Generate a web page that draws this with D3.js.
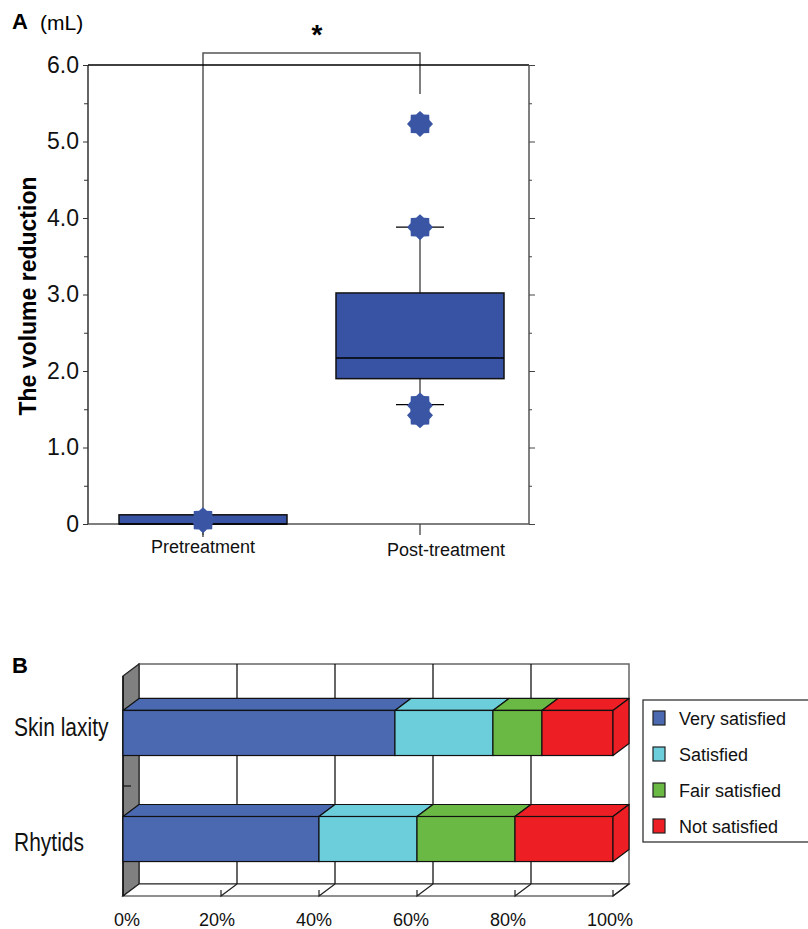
<!DOCTYPE html>
<html><head><meta charset="utf-8">
<script src="https://cdn.jsdelivr.net/npm/d3@7"></script>
<style>body{margin:0;background:#fff} svg{display:block;font-family:'Liberation Sans',Arial,Helvetica,sans-serif}</style>
</head><body><svg id="c" width="808" height="929"></svg>
<script>
// ---------- Panel A data ----------
const groups = ["Pretreatment", "Post-treatment"];
const q1 = [0, 1.90];
const medians = [0, 2.17];
const q3 = [0.12, 3.02];
const whiskerLow = [null, 1.56];
const whiskerHigh = [null, 3.88];
const outliersPre = [0.05];
const outliersPost = [5.23, 3.88, 1.55, 1.42];
const yTickValues = [0, 1, 2, 3, 4, 5, 6];
const yTickLabels = ["0", "1.0", "2.0", "3.0", "4.0", "5.0", "6.0"];
const yMinorTicks = [0.5, 1.5, 2.5, 3.5, 4.5, 5.5];

// ---------- Panel B data ----------
const items = ["Skin laxity", "Rhytids"];
const levels = ["Very satisfied", "Satisfied", "Fair satisfied", "Not satisfied"];
const verySatisfied = [55.5, 40];
const satisfied = [20, 20];
const fairSatisfied = [10, 20];
const notSatisfied = [14.5, 20];
const levelColors = ["#4a69b0", "#6ccddb", "#6ab945", "#ed1f24"];
const xTickValues = [0, 20, 40, 60, 80, 100];
const xTickLabels = ["0%", "20%", "40%", "60%", "80%", "100%"];

const svg = d3.select("#c");

// ================= PANEL A =================
const L = 88, R = 529;
const y = d3.scaleLinear().domain([0, 6]).range([524, 65]);
const x = d3.scalePoint().domain(groups).range([203, 420]);
const gA = svg.append("g");
const boxFill = "#3953a4", starFill = "#3a55a4";

svg.append("text").attr("x", 12).attr("y", 29).attr("font-size", 22).attr("font-weight", "bold").text("A");
svg.append("text").attr("x", 40).attr("y", 30).attr("font-size", 21).text("(mL)");

// bracket + pretreatment whisker line
gA.append("path")
  .attr("d", `M${x(groups[0])},${y(0)+13}V53H${x(groups[1])}V94`)
  .attr("fill", "none").attr("stroke", "#555").attr("stroke-width", 1.5);
svg.append("text").attr("x", 317).attr("y", 44).attr("text-anchor", "middle")
  .attr("font-size", 28).attr("font-weight", "bold").text("*");

// frame
gA.append("line").attr("x1", L).attr("x2", R).attr("y1", y(6)).attr("y2", y(6)).attr("stroke", "#000").attr("stroke-width", 1.3);
gA.append("line").attr("x1", L).attr("x2", L).attr("y1", y(0)).attr("y2", y(6)).attr("stroke", "#111").attr("stroke-width", 1.3);
gA.append("line").attr("x1", L).attr("x2", R).attr("y1", y(0)).attr("y2", y(0)).attr("stroke", "#555").attr("stroke-width", 1.5);
gA.append("line").attr("x1", R).attr("x2", R).attr("y1", y(0)).attr("y2", y(6)).attr("stroke", "#555").attr("stroke-width", 1.5);

// left axis
const axL = gA.append("g").attr("transform", `translate(${L},0)`)
  .call(d3.axisLeft(y).tickValues(yTickValues).tickFormat((d, i) => yTickLabels[i]).tickSize(5).tickPadding(4));
axL.select(".domain").remove();
axL.selectAll("text").attr("font-size", 23).attr("font-family", "'Liberation Sans',Arial,sans-serif").attr("fill", "#111");
axL.selectAll("line").attr("stroke", "#333");
const axLm = gA.append("g").attr("transform", `translate(${L},0)`)
  .call(d3.axisLeft(y).tickValues(yMinorTicks).tickFormat("").tickSize(4));
axLm.select(".domain").remove();
axLm.selectAll("line").attr("stroke", "#333");
// right axis
const axR = gA.append("g").attr("transform", `translate(${R},0)`)
  .call(d3.axisRight(y).tickValues(yTickValues).tickFormat("").tickSize(6));
axR.select(".domain").remove();
axR.selectAll("line").attr("stroke", "#444");
const axRm = gA.append("g").attr("transform", `translate(${R},0)`)
  .call(d3.axisRight(y).tickValues(yMinorTicks).tickFormat("").tickSize(3));
axRm.select(".domain").remove();
axRm.selectAll("line").attr("stroke", "#444");

// x ticks and labels
const labelShift = [0, 26], labelBase = [553, 556];
groups.forEach((g, i) => {
  gA.append("line").attr("x1", x(g)).attr("x2", x(g)).attr("y1", y(0)).attr("y2", y(0) + 11).attr("stroke", "#444").attr("stroke-width", 1.3);
  gA.append("text").attr("x", x(g) + labelShift[i]).attr("y", labelBase[i]).attr("text-anchor", "middle")
    .attr("font-size", 18).attr("fill", "#111").text(g);
});

// y label
svg.append("text").attr("transform", "translate(36,296) rotate(-90)").attr("text-anchor", "middle")
  .attr("font-size", 23).attr("font-weight", "bold").text("The volume reduction");

// boxes
const boxW = 168, capW = 48;
groups.forEach((g, i) => {
  const cx = x(g);
  if (whiskerHigh[i] != null) {
    gA.append("line").attr("x1", cx).attr("x2", cx).attr("y1", y(q3[i])).attr("y2", y(whiskerHigh[i])).attr("stroke", "#555").attr("stroke-width", 1.5);
    gA.append("line").attr("x1", cx).attr("x2", cx).attr("y1", y(q1[i])).attr("y2", y(whiskerLow[i])).attr("stroke", "#555").attr("stroke-width", 1.5);
    gA.append("line").attr("x1", cx - capW/2).attr("x2", cx + capW/2).attr("y1", y(whiskerHigh[i])).attr("y2", y(whiskerHigh[i])).attr("stroke", "#000").attr("stroke-width", 1.3);
    gA.append("line").attr("x1", cx - capW/2).attr("x2", cx + capW/2).attr("y1", y(whiskerLow[i])).attr("y2", y(whiskerLow[i])).attr("stroke", "#000").attr("stroke-width", 1.3);
  }
  gA.append("rect").attr("x", cx - boxW/2).attr("width", boxW).attr("y", y(q3[i])).attr("height", y(q1[i]) - y(q3[i]))
    .attr("fill", boxFill).attr("stroke", "#111").attr("stroke-width", 1.5);
  gA.append("line").attr("x1", cx - boxW/2).attr("x2", cx + boxW/2).attr("y1", y(medians[i])).attr("y2", y(medians[i])).attr("stroke", "#000").attr("stroke-width", 1.3);
});

// stars
const starPts = d3.range(16).map(k => [k * Math.PI / 8, k % 2 === 0 ? 13 : 10.2]);
const starPath = d3.lineRadial().curve(d3.curveLinearClosed)(starPts);
function drawStars(vals, g) {
  gA.selectAll(null).data(vals).join("path")
    .attr("d", starPath).attr("transform", d => `translate(${x(g)},${y(d)})`)
    .attr("fill", starFill);
}
drawStars(outliersPre, groups[0]);
drawStars(outliersPost, groups[1]);

// ================= PANEL B =================
const dx = 16, dy = -12;
const xB = d3.scaleLinear().domain([0, 100]).range([123, 613]);
const yB = d3.scaleBand().domain(items).range([676, 896]).paddingInner(0.575).paddingOuter(0.325);
const [fTop, fBot] = yB.range();
const gB = svg.append("g");
svg.append("text").attr("x", 12).attr("y", 673).attr("font-size", 22).attr("font-weight", "bold").text("B");

// back wall
gB.append("rect").attr("x", xB(0) + dx).attr("y", fTop + dy).attr("width", xB(100) - xB(0)).attr("height", fBot - fTop)
  .attr("fill", "#fff").attr("stroke", "#666").attr("stroke-width", 1.5);
gB.selectAll(null).data(xTickValues.slice(1, -1)).join("line")
  .attr("x1", d => xB(d) + dx).attr("x2", d => xB(d) + dx).attr("y1", fTop + dy).attr("y2", fBot + dy)
  .attr("stroke", "#000").attr("stroke-width", 1.2);
// left wall
gB.append("polygon").attr("points", [[xB(0), fTop], [xB(0) + dx, fTop + dy], [xB(0) + dx, fBot + dy], [xB(0), fBot]].join(" "))
  .attr("fill", "#808080").attr("stroke", "#222").attr("stroke-width", 1.2);
// floor
gB.append("polygon").attr("points", [[xB(0), fBot], [xB(0) + dx, fBot + dy], [xB(100) + dx, fBot + dy], [xB(100), fBot]].join(" "))
  .attr("fill", "#fff").attr("stroke", "#222").attr("stroke-width", 1.2);
gB.selectAll(null).data(xTickValues.slice(1)).join("path")
  .attr("d", d => `M${xB(d)},${fBot - 6}V${fBot}L${xB(d) + dx},${fBot + dy}`)
  .attr("fill", "none").attr("stroke", "#222").attr("stroke-width", 1.2);
// y axis line and tick
gB.append("line").attr("x1", xB(0)).attr("x2", xB(0)).attr("y1", fTop).attr("y2", fBot).attr("stroke", "#111").attr("stroke-width", 1.5);
const midTick = (yB(items[0]) + yB.bandwidth() + yB(items[1])) / 2;
gB.append("line").attr("x1", xB(0)).attr("x2", xB(0) + 8).attr("y1", midTick).attr("y2", midTick).attr("stroke", "#111").attr("stroke-width", 1.2);

// bars
const rows = items.map((it, i) => ({
  item: it,
  "Very satisfied": verySatisfied[i], "Satisfied": satisfied[i],
  "Fair satisfied": fairSatisfied[i], "Not satisfied": notSatisfied[i]
}));
const stacked = d3.stack().keys(levels)(rows);
const bw = yB.bandwidth();
rows.forEach((row, ri) => {
  const y0 = yB(row.item);
  stacked.forEach((ser, si) => {
    const a = xB(ser[ri][0]), b = xB(ser[ri][1]);
    gB.append("polygon").attr("points", [[a, y0], [b, y0], [b + dx, y0 + dy], [a + dx, y0 + dy]].join(" "))
      .attr("fill", levelColors[si]).attr("stroke", "#111").attr("stroke-width", 1.2).attr("stroke-linejoin", "round");
    gB.append("rect").attr("x", a).attr("y", y0).attr("width", b - a).attr("height", bw)
      .attr("fill", levelColors[si]).attr("stroke", "#111").attr("stroke-width", 1.2);
  });
  const last = stacked[stacked.length - 1][ri];
  const e = xB(last[1]);
  gB.append("polygon").attr("points", [[e, y0], [e + dx, y0 + dy], [e + dx, y0 + dy + bw], [e, y0 + bw]].join(" "))
    .attr("fill", levelColors[levels.length - 1]).attr("stroke", "#111").attr("stroke-width", 1.2).attr("stroke-linejoin", "round");
});

// category labels (condensed)
const catLabelOffset = [3, 12];
items.forEach((it, i) => {
  svg.append("text")
    .attr("transform", `translate(14,${yB(it) + bw / 2 + catLabelOffset[i]}) scale(0.84,1)`)
    .attr("font-size", 25).attr("fill", "#111").text(it);
});

// x tick labels
const xLabelShift = [4, -4, -5, -6, -7, -3];
gB.selectAll(null).data(xTickValues).join("text")
  .attr("x", (d, i) => xB(d) + xLabelShift[i]).attr("y", 926).attr("text-anchor", "middle")
  .attr("font-size", 18).attr("fill", "#111").text((d, i) => xTickLabels[i]);

// legend
const lg = svg.append("g");
lg.append("rect").attr("x", 643).attr("y", 700).attr("width", 200).attr("height", 142).attr("fill", "#fff").attr("stroke", "#333").attr("stroke-width", 1.3);
levels.forEach((lv, i) => {
  const base = 725 + 36 * i;
  lg.append("rect").attr("x", 653).attr("y", base - 14).attr("width", 12).attr("height", 14)
    .attr("fill", levelColors[i]).attr("stroke", "#222").attr("stroke-width", 1.2);
  lg.append("text").attr("x", 679).attr("y", base).attr("font-size", 18).attr("fill", "#111").text(lv);
});
</script></body></html>
